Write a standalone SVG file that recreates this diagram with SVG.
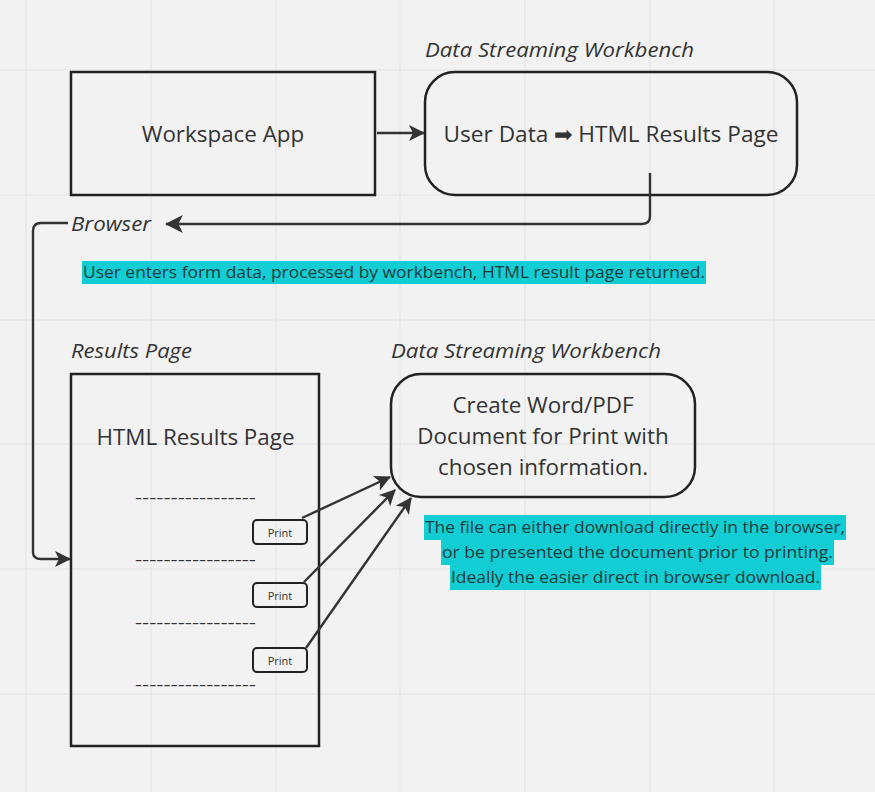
<svg xmlns="http://www.w3.org/2000/svg" width="875" height="792" viewBox="0 0 875 792">
<defs>
<style>
.grid{stroke:#e2e2e2;stroke-width:1}
.box{fill:none;stroke:#222;stroke-width:2.5}
.btn{fill:none;stroke:#222;stroke-width:2}
.conn{fill:none;stroke:#333;stroke-width:2.4}
.t{font-family:"Open Sans","Liberation Sans",sans-serif;fill:#333}
.lbl{font-family:"Open Sans","Liberation Sans",sans-serif;font-style:italic;font-size:20px;fill:#333}
.main{font-size:22.4px;text-anchor:middle}
.note{font-size:16px;fill:#1f3a3b}
.hl{fill:#12cdd4}
</style>
<marker id="ah" viewBox="0 0 16 16" refX="15" refY="8" markerWidth="16" markerHeight="16" markerUnits="userSpaceOnUse" orient="auto">
<path d="M0,0 L16,8 L0,16 L4,8 z" fill="#333"/>
</marker>
<marker id="ahb" viewBox="0 0 16 16" refX="15" refY="8" markerWidth="18" markerHeight="18" markerUnits="userSpaceOnUse" orient="auto">
<path d="M0,0 L16,8 L0,16 L4,8 z" fill="#333"/>
</marker>
</defs>
<rect width="875" height="792" fill="#f2f2f2"/>
<g id="grid">
<line class="grid" x1="26" y1="0" x2="26" y2="792"/>
<line class="grid" x1="151" y1="0" x2="151" y2="792"/>
<line class="grid" x1="276" y1="0" x2="276" y2="792"/>
<line class="grid" x1="400" y1="0" x2="400" y2="792"/>
<line class="grid" x1="525" y1="0" x2="525" y2="792"/>
<line class="grid" x1="650" y1="0" x2="650" y2="792"/>
<line class="grid" x1="774" y1="0" x2="774" y2="792"/>
<line class="grid" x1="0" y1="70" x2="875" y2="70"/>
<line class="grid" x1="0" y1="195" x2="875" y2="195"/>
<line class="grid" x1="0" y1="320" x2="875" y2="320"/>
<line class="grid" x1="0" y1="444" x2="875" y2="444"/>
<line class="grid" x1="0" y1="569" x2="875" y2="569"/>
<line class="grid" x1="0" y1="694" x2="875" y2="694"/>
</g>

<g id="workspace-app">
<rect class="box" x="71" y="72" width="304" height="123"/>
<text class="t main" x="223" y="141.5">Workspace App</text>
</g>

<g id="workbench-top">
<text class="lbl" x="425" y="57" textLength="269" lengthAdjust="spacingAndGlyphs">Data Streaming Workbench</text>
<rect class="box" x="425" y="72" width="372" height="123" rx="30"/>
<text class="t main" x="611" y="141.5" textLength="335" lengthAdjust="spacingAndGlyphs">User Data ➡ HTML Results Page</text>
</g>

<g id="browser">
<text class="lbl" x="71" y="231" textLength="80" lengthAdjust="spacingAndGlyphs">Browser</text>
</g>

<g id="note-top">
<rect class="hl" x="82" y="261" width="624" height="23"/>
<text class="t note" x="83" y="278" textLength="622" lengthAdjust="spacingAndGlyphs">User enters form data, processed by workbench, HTML result page returned.</text>
</g>

<g id="results-page">
<text class="lbl" x="71" y="358" textLength="121" lengthAdjust="spacingAndGlyphs">Results Page</text>
<rect class="box" x="71" y="374" width="248" height="372"/>
<text class="t main" x="195.5" y="444.5">HTML Results Page</text>
<text class="t" x="135" y="503" font-size="16" textLength="121" lengthAdjust="spacingAndGlyphs">-----------------</text>
<text class="t" x="135" y="565" font-size="16" textLength="121" lengthAdjust="spacingAndGlyphs">-----------------</text>
<text class="t" x="135" y="628" font-size="16" textLength="121" lengthAdjust="spacingAndGlyphs">-----------------</text>
<text class="t" x="135" y="690" font-size="16" textLength="121" lengthAdjust="spacingAndGlyphs">-----------------</text>
</g>

<g id="print-1">
<rect class="btn" x="253" y="520" width="54" height="24" rx="4"/>
<text class="t" x="280" y="536.5" font-size="11" text-anchor="middle">Print</text>
</g>
<g id="print-2">
<rect class="btn" x="253" y="583" width="54" height="24" rx="4"/>
<text class="t" x="280" y="599.5" font-size="11" text-anchor="middle">Print</text>
</g>
<g id="print-3">
<rect class="btn" x="253" y="648" width="54" height="24" rx="4"/>
<text class="t" x="280" y="664.5" font-size="11" text-anchor="middle">Print</text>
</g>

<g id="workbench-doc">
<text class="lbl" x="391" y="358" textLength="270" lengthAdjust="spacingAndGlyphs">Data Streaming Workbench</text>
<rect class="box" x="391" y="374" width="304" height="123" rx="30"/>
<text class="t main" x="543" y="413">Create Word/PDF</text>
<text class="t main" x="543" y="444">Document for Print with</text>
<text class="t main" x="543" y="475">chosen information.</text>
</g>

<g id="note-bottom">
<rect class="hl" x="424" y="515" width="422" height="25"/>
<rect class="hl" x="441" y="540" width="393" height="25"/>
<rect class="hl" x="450" y="565" width="371" height="25"/>
<text class="t note" x="635" y="533" text-anchor="middle" textLength="420" lengthAdjust="spacingAndGlyphs">The file can either download directly in the browser,</text>
<text class="t note" x="637.5" y="558" text-anchor="middle" textLength="391" lengthAdjust="spacingAndGlyphs">or be presented the document prior to printing.</text>
<text class="t note" x="635.5" y="583" text-anchor="middle" textLength="369" lengthAdjust="spacingAndGlyphs">Ideally the easier direct in browser download.</text>
</g>

<g id="connectors">
<path class="conn" d="M377,133 L424,133" marker-end="url(#ah)"/>
<path class="conn" d="M650,173 L650,216 Q650,224 642,224 L166,224" marker-end="url(#ahb)"/>
<path class="conn" d="M68,223 L41,223 Q33,223 33,231 L33,552 Q33,559 41,559 L70,559" marker-end="url(#ah)"/>
<path class="conn" d="M302,518 L390,477" marker-end="url(#ah)"/>
<path class="conn" d="M304,582 L395,490" marker-end="url(#ah)"/>
<path class="conn" d="M306,648 L411,498" marker-end="url(#ah)"/>
</g>
</svg>
